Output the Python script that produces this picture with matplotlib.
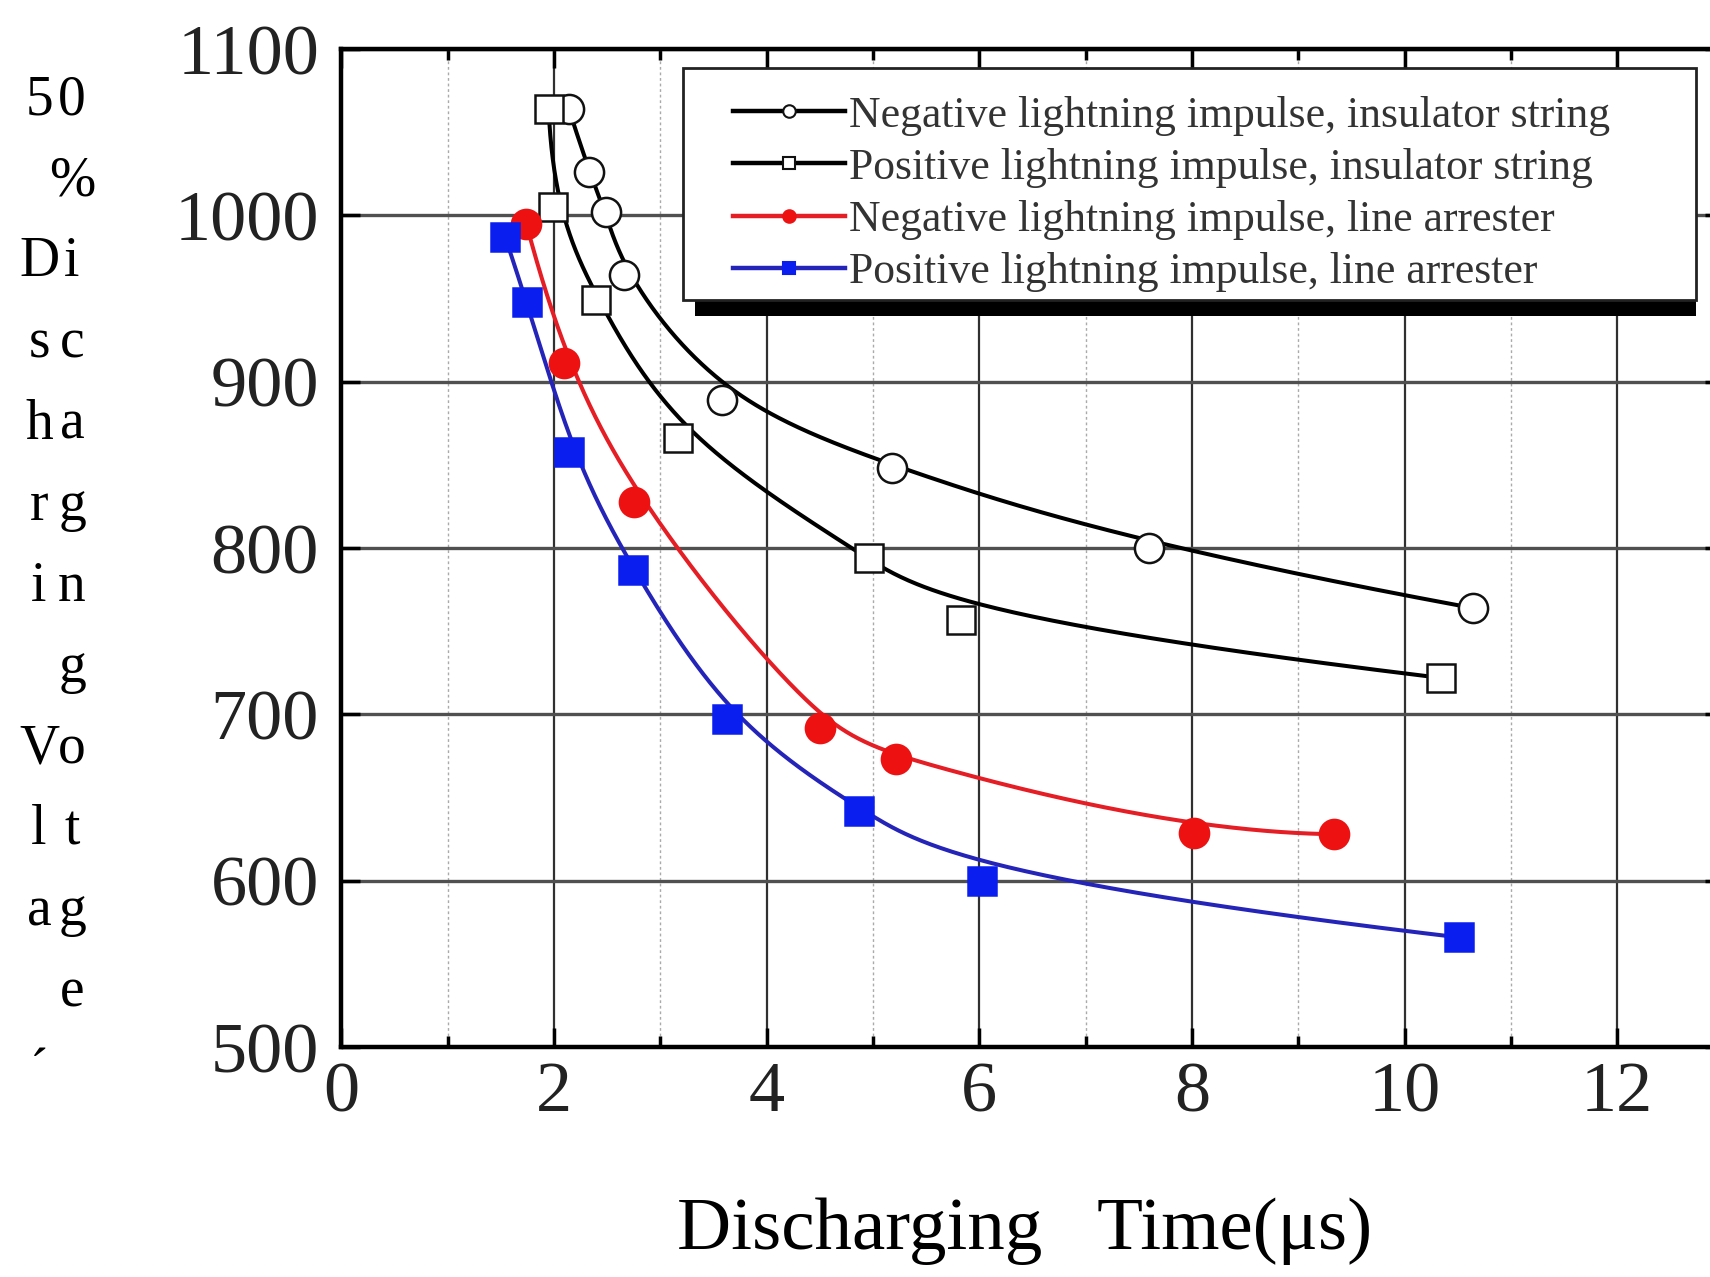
import numpy as np
import matplotlib
matplotlib.use("Agg")
import matplotlib.pyplot as plt
from matplotlib.lines import Line2D
from matplotlib.patches import Rectangle
from matplotlib.ticker import MultipleLocator

# ---------------- data ----------------
neg_ins_t = [2.14, 2.33, 2.49, 2.66, 3.58, 5.18, 7.60, 10.64]
neg_ins_v = [1064, 1026, 1002, 964, 889, 848, 800, 764]

pos_ins_t = [1.95, 1.99, 2.40, 3.17, 4.96, 5.83, 10.34]
pos_ins_v = [1064, 1005, 949, 866, 794, 757, 722]

neg_arr_t = [1.74, 2.09, 2.75, 4.50, 5.22, 8.02, 9.34]
neg_arr_v = [995, 911, 828, 692, 673, 629, 628]

pos_arr_t = [1.54, 1.75, 2.14, 2.74, 3.63, 4.87, 6.03, 10.51]
pos_arr_v = [987, 948, 858, 787, 697, 642, 600, 566]

labels = ["Negative lightning impulse, insulator string",
          "Positive lightning impulse, insulator string",
          "Negative lightning impulse, line arrester",
          "Positive lightning impulse, line arrester"]

x_ticks = [0, 2, 4, 6, 8, 10, 12]
y_ticks = [500, 600, 700, 800, 900, 1000, 1100]
ylabel_lines = ["50", " %", "Di", "sc", "ha", "rg", "in", " g", "Vo", "lt", "ag", " e", "\u00b4 "]
xlabel = "Discharging   Time(\u03bcs)"


def bspline(t, v, k=3, n=600):
    """Clamped uniform B-spline with the data points as control points (Origin-style B-spline line)."""
    P = np.column_stack([np.asarray(t, float), np.asarray(v, float)])
    m = len(P)
    knots = np.concatenate([np.zeros(k), np.arange(m - k + 1, dtype=float), np.full(k, m - k, dtype=float)])
    u = np.linspace(0, m - k, n)
    u[-1] -= 1e-9
    nb = len(knots) - 1
    N = np.zeros((n, nb))
    for i in range(nb):
        N[:, i] = (knots[i] <= u) & (u < knots[i + 1])
    for p in range(1, k + 1):
        Nn = np.zeros((n, nb - p))
        for i in range(nb - p):
            a = 0.0
            d1 = knots[i + p] - knots[i]
            if d1 > 0:
                a = (u - knots[i]) / d1 * N[:, i]
            b = 0.0
            d2 = knots[i + p + 1] - knots[i + 1]
            if d2 > 0:
                b = (knots[i + p + 1] - u) / d2 * N[:, i + 1]
            Nn[:, i] = a + b
        N = Nn
    C = N[:, :m] @ P
    return C[:, 0], C[:, 1]


W, H = 1710, 1277
fig = plt.figure(figsize=(W / 100, H / 100), dpi=100)
ax = fig.add_axes([0.1996, 0.180, 0.8083, 0.7816])
ax.set_xlim(0, 13)
ax.set_ylim(500, 1100)

series = [
    (neg_ins_t, neg_ins_v, 'o', 21, 'black', 'white', '#111111'),
    (pos_ins_t, pos_ins_v, 's', 20, 'black', 'white', '#111111'),
    (neg_arr_t, neg_arr_v, 'o', 21, '#e41e24', '#ee1111', '#ee1111'),
    (pos_arr_t, pos_arr_v, 's', 20, '#2424b8', '#0a1ef0', '#0a1ef0'),
]
for t, v, m, ms, lc, fc, ec in series:
    cx, cy = bspline(t, v)
    ax.plot(cx, cy, color=lc, lw=2.9, zorder=3, solid_capstyle='round')
    ax.plot(t, v, ls='none', marker=m, ms=ms, mfc=fc, mec=ec, mew=1.8, zorder=4)

ax.xaxis.set_major_locator(MultipleLocator(2))
ax.xaxis.set_minor_locator(MultipleLocator(1))
ax.yaxis.set_major_locator(MultipleLocator(100))
ax.grid(which='major', axis='x', color='#303030', lw=1.6)
ax.grid(which='major', axis='y', color='#505050', lw=2.4)
ax.grid(which='minor', axis='x', color='#aaaaaa', lw=1.0, ls=(0, (2, 2)))
ax.set_axisbelow(True)
for s in ax.spines.values():
    s.set_linewidth(3.2)
    s.set_color('black')
ax.tick_params(which='both', direction='in', top=True, right=True, width=2.5)
ax.tick_params(which='major', length=14)
ax.tick_params(which='minor', length=8)
ax.set_xticks(x_ticks)
ax.set_yticks(y_ticks)
for lab in ax.get_xticklabels() + ax.get_yticklabels():
    lab.set_fontfamily('Liberation Serif')
    lab.set_fontsize(52)
    lab.set_color('#222222')
ax.tick_params(axis='x', pad=10)
ax.tick_params(axis='y', pad=16)

# legend box with black shadow
fig.add_artist(Rectangle((0.4064, 0.7525), 0.5856, 0.1848, transform=fig.transFigure,
                         facecolor='black', edgecolor='none', zorder=4))
fig.add_artist(Rectangle((0.3994, 0.765), 0.5924, 0.182, transform=fig.transFigure,
                         facecolor='white', edgecolor='#222222', lw=2.0, zorder=4.5))
handles = []
for t, v, m, ms, lc, fc, ec in series:
    handles.append(Line2D([], [], color=lc, lw=3.2, marker=m, ms=9, mfc=fc, mec=ec, mew=1.5))
leg = fig.legend(handles, labels, loc='upper left', bbox_to_anchor=(0.4287, 0.9252),
                 frameon=False, borderpad=0, borderaxespad=0, handlelength=2.56,
                 handletextpad=0.08, labelspacing=0.28,
                 prop={'family': 'Liberation Serif', 'size': 31.5})
leg.set_zorder(6)
for txt in leg.get_texts():
    txt.set_color('#333333')

# y label: broken into two-character lines, as in the reference
y0 = 100.3
step = 81.1
col_x = [39, 72]
for i, line in enumerate(ylabel_lines):
    for j, ch in enumerate(line):
        if ch == ' ':
            continue
        fig.text(col_x[j] / W, 1 - (y0 + i * step) / H, ch, family='Liberation Serif',
                 fontsize=40, ha='center', va='center', color='black')

fig.text(0.599, 0.036, xlabel, family='Liberation Serif', fontsize=54,
         ha='center', va='center', color='black')

fig.savefig('out.png', dpi=100)
